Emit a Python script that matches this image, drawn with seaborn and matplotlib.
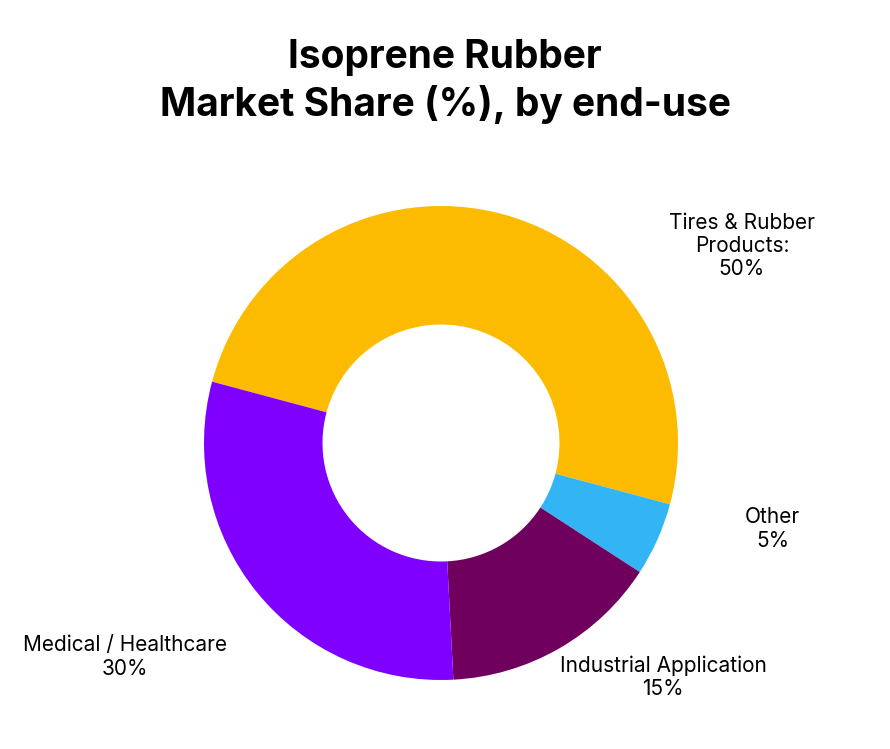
import matplotlib
matplotlib.use('Agg')
import matplotlib.pyplot as plt
import seaborn as sns

# data
segments = ['Tires & Rubber\nProducts:', 'Other', 'Industrial Application', 'Medical / Healthcare']
shares = [50, 5, 15, 30]
colors = ['#FDBB00', '#33B5F5', '#70005E', '#7F00FF']
# label anchor spots (data units, pie radius = 1)
label_x = [1.27, 1.40, 0.937, -1.333]
label_y = [0.83, -0.363, -0.987, -0.903]

sns.set_theme(style='white')
plt.rcParams['font.family'] = ['Inter', 'DejaVu Sans']

fig = plt.figure(figsize=(8.9, 7.49), dpi=100)
ax = fig.add_axes([0, 0, 1, 1])

pal = sns.color_palette(colors)
ax.pie(shares, colors=pal, startangle=165, counterclock=False,
       radius=1.0, wedgeprops=dict(width=0.5, edgecolor='none'))

for name, val, lx, ly in zip(segments, shares, label_x, label_y):
    ax.text(lx, ly, f'{name}\n{val}%', ha='center', va='center',
            fontsize=15, color='black', linespacing=1.2)

ax.set_xlim(-441 / 237, 449 / 237)
ax.set_ylim(-306 / 237, 443 / 237)
ax.set_aspect('auto')
ax.axis('off')

fig.text(0.5, 1 - 68 / 749, 'Isoprene Rubber', ha='center', va='baseline',
         fontsize=28, fontweight='bold', color='black')
fig.text(0.5, 1 - 116 / 749, 'Market Share (%), by end-use', ha='center', va='baseline',
         fontsize=28, fontweight='bold', color='black')

fig.savefig('out.png', dpi=100, facecolor='white')
plt.close(fig)
